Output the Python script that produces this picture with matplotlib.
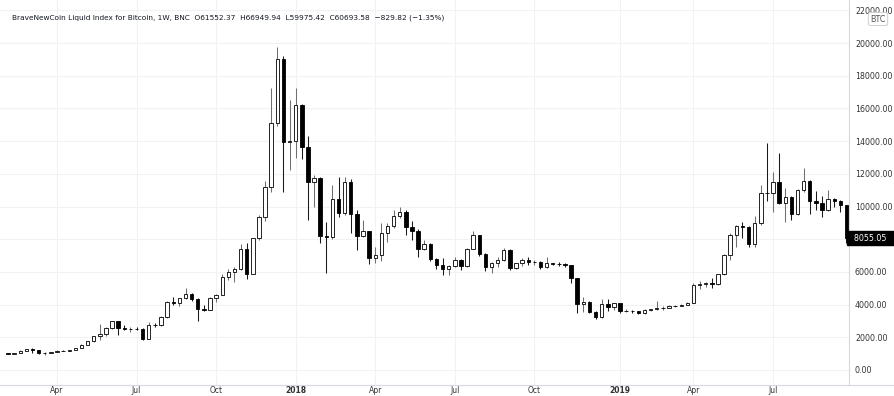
import numpy as np
import pandas as pd
import matplotlib
matplotlib.use('Agg')
import matplotlib.pyplot as plt
from matplotlib.lines import Line2D

# weekly bars, BraveNewCoin Liquid Index for Bitcoin (BNC), from 6 Feb 2017
weeks = pd.date_range('2017-02-06', periods=138, freq='W-MON')

opens = [1025, 1005, 1050, 1185, 1265, 1240, 1020, 1045, 1090, 1180,
         1175, 1240, 1340, 1550, 1765, 2070, 2200, 2580, 2980, 2540,
         2500, 2520, 2510, 1920, 2780, 2760, 3250, 4140, 4100, 4380,
         4640, 4330, 3710, 3690, 4400, 4610, 5710, 6010, 6150, 7380,
         5900, 8050, 9340, 11210, 15090, 19030, 13950, 14000, 16200, 13650,
         11520, 11750, 8200, 8130, 10440, 9620, 11480, 9550, 8220, 8500,
         6830, 7040, 8400, 8810, 9420, 9650, 8730, 8530, 7380, 7700,
         6800, 6440, 6160, 6380, 6760, 6360, 7400, 8250, 7080, 6320,
         6520, 6740, 7320, 6250, 6530, 6730, 6610, 6620, 6290, 6530,
         6500, 6460, 6400, 5610, 4020, 4180, 3570, 3220, 4020, 3880,
         4080, 3600, 3640, 3600, 3460, 3700, 3720, 3780, 3810, 3920,
         3940, 3970, 4100, 5230, 5260, 5300, 5260, 5850, 7020, 8240,
         8790, 8760, 7690, 8970, 10850, 10800, 11520, 10200, 10600, 9520,
         11010, 11580, 10360, 10200, 9790, 10440, 10360, 10080]
highs = [1065, 1060, 1200, 1290, 1330, 1250, 1080, 1110, 1200, 1215,
         1250, 1350, 1560, 1790, 2100, 2800, 2620, 3000, 3020, 2780,
         2600, 2650, 2560, 2920, 2900, 3300, 4200, 4480, 4400, 4990,
         4690, 4380, 3950, 4450, 4620, 5860, 6190, 6300, 7700, 7760,
         8100, 9500, 11550, 17230, 19780, 19200, 16500, 17230, 16300, 14320,
         11950, 11800, 9070, 11320, 11790, 11790, 11700, 9790, 9180, 8520,
         7510, 8970, 9010, 9790, 9950, 9800, 9120, 8600, 7950, 7760,
         6850, 6850, 6400, 6910, 6800, 7470, 8500, 8280, 7150, 6580,
         6900, 7460, 7400, 6560, 6830, 6900, 6700, 6660, 6930, 6560,
         6600, 6560, 6430, 5650, 4480, 4200, 3600, 4330, 4330, 4120,
         4120, 3750, 3700, 3640, 3730, 3740, 4240, 3900, 3960, 4000,
         4050, 4130, 5300, 5460, 5380, 5600, 5900, 7100, 8360, 8850,
         9070, 8800, 9420, 11320, 13910, 12130, 13260, 11150, 10620, 11070,
         12340, 11600, 10970, 10650, 11010, 10500, 10380, 10100]
lows = [975, 990, 1040, 1150, 1060, 950, 890, 1010, 1080, 1150,
        1170, 1220, 1330, 1530, 1720, 1850, 2100, 2530, 2140, 2420,
        2330, 2460, 1840, 1900, 2620, 2700, 3200, 3980, 3900, 4330,
        4200, 3020, 3600, 3650, 4160, 4570, 5500, 5400, 6100, 5550,
        5860, 7950, 9100, 10900, 14900, 10910, 12240, 12950, 12890, 9180,
        10000, 7750, 5950, 8000, 9380, 9500, 8360, 7340, 8120, 6490,
        6560, 6690, 7850, 8700, 9300, 8260, 7950, 6910, 7340, 6650,
        6200, 5810, 5810, 6300, 6120, 6300, 7380, 6970, 6060, 5920,
        6300, 6650, 6120, 6200, 6350, 6450, 6450, 6180, 6250, 6450,
        6350, 6300, 5300, 3470, 3570, 3500, 3150, 3200, 3610, 3660,
        3500, 3520, 3480, 3400, 3420, 3600, 3700, 3700, 3780, 3860,
        3900, 3950, 4100, 4950, 5100, 5000, 5200, 5800, 6730, 7540,
        8080, 7540, 7500, 8900, 10340, 9690, 10150, 9070, 9180, 9500,
        10900, 9540, 9790, 9340, 9750, 9950, 9690, 7750]
closes = [1005, 1050, 1185, 1265, 1240, 1020, 1045, 1090, 1180, 1175,
          1240, 1340, 1550, 1765, 2070, 2200, 2580, 2980, 2540, 2500,
          2520, 2510, 1920, 2780, 2760, 3250, 4140, 4100, 4380, 4640,
          4330, 3710, 3690, 4400, 4610, 5710, 6010, 6150, 7380, 5900,
          8050, 9340, 11210, 15090, 19030, 13950, 14000, 16200, 13650, 11520,
          11750, 8200, 8130, 10440, 9620, 11480, 9550, 8220, 8500, 6830,
          7040, 8400, 8810, 9420, 9650, 8730, 8530, 7380, 7700, 6800,
          6440, 6160, 6380, 6760, 6360, 7400, 8250, 7080, 6320, 6520,
          6740, 7320, 6250, 6530, 6730, 6610, 6620, 6290, 6530, 6500,
          6460, 6400, 5610, 4020, 4180, 3570, 3220, 4020, 3880, 4080,
          3600, 3640, 3600, 3460, 3700, 3720, 3780, 3810, 3920, 3940,
          3970, 4100, 5230, 5260, 5300, 5260, 5850, 7020, 8240, 8790,
          8760, 7690, 8970, 10850, 10800, 11520, 10200, 10600, 9520, 11010,
          11580, 10360, 10200, 9790, 10440, 10360, 10080, 8055.05]

price_ticks = list(range(0, 22001, 2000))
title = ('BraveNewCoin Liquid Index for Bitcoin, 1W, BNC  O61552.37  H66949.94  '
         'L59975.42  C60693.58  \u2212829.82 (\u22121.35%)')

o = np.array(opens, dtype=float)
h = np.array(highs, dtype=float)
l = np.array(lows, dtype=float)
c = np.array(closes, dtype=float)
x = np.arange(len(weeks))
up = c >= o

fig = plt.figure(figsize=(8.94, 3.96), dpi=100)
ax = fig.add_axes([0, 11 / 396, 849 / 894, 385 / 396])

# wicks then bodies
ax.vlines(x[up], l[up], h[up], color='#707070', lw=0.75, zorder=2)
ax.vlines(x[~up], l[~up], h[~up], color='#1a1a1a', lw=0.75, zorder=2)
ax.bar(x, np.abs(c - o), bottom=np.minimum(o, c), width=0.56,
       color=np.where(up, 'white', 'black'), edgecolor='black', linewidth=0.6, zorder=3)

ax.set_xlim(-1.31, 137.41)
ax.set_ylim(-918, 22637)

# quarter ticks at the first bar of Jan/Apr/Jul/Oct
qpos, qlab = [], []
for i in range(1, len(weeks)):
    d, p = weeks[i], weeks[i - 1]
    if d.month != p.month and d.month in (1, 4, 7, 10):
        qpos.append(i)
        qlab.append(str(d.year) if d.month == 1 else d.strftime('%b'))
ax.set_xticks(qpos)
ax.set_xticklabels(qlab, fontsize=5.5, color='#333333')
for t in ax.get_xticklabels():
    if t.get_text().isdigit():
        t.set_fontweight('bold')

# the 8000 label sits under the last-price tag
ax.yaxis.tick_right()
ax.set_yticks(price_ticks)
ax.set_yticklabels(['' if v == 8000 else f'{v:.2f}' for v in price_ticks],
                   fontsize=5.7, color='#333333')
ax.tick_params(axis='y', length=0, pad=4.3)
ax.tick_params(axis='x', length=0, pad=1.0)

ax.grid(True, color='#f0f2f6', lw=0.8, zorder=0)
ax.set_axisbelow(True)
for s in ['top', 'left']:
    ax.spines[s].set_visible(False)
for s in ['right', 'bottom']:
    ax.spines[s].set_color('#d6d9e0')
    ax.spines[s].set_linewidth(0.8)
fig.add_artist(Line2D([849 / 894, 1], [11 / 396, 11 / 396], transform=fig.transFigure,
                      color='#d6d9e0', lw=0.8))

fig.text(12 / 894, 1 - 18 / 396, title, fontsize=5.35, va='center', color='#131722')

# last price tag on the scale
ax.text(1.0, c[-1], f'  {c[-1]:.2f}   ', transform=ax.get_yaxis_transform(),
        ha='left', va='center', fontsize=5.7, color='white',
        bbox=dict(boxstyle='square,pad=0.3', fc='black', ec='black'))

fig.text(878 / 894, 1 - 19 / 396, 'BTC', ha='center', va='center', fontsize=5.8,
         color='#555555', bbox=dict(boxstyle='round,pad=0.25', fc='white', ec='#c8c8c8', lw=0.6))

fig.savefig('out.png', dpi=100)
